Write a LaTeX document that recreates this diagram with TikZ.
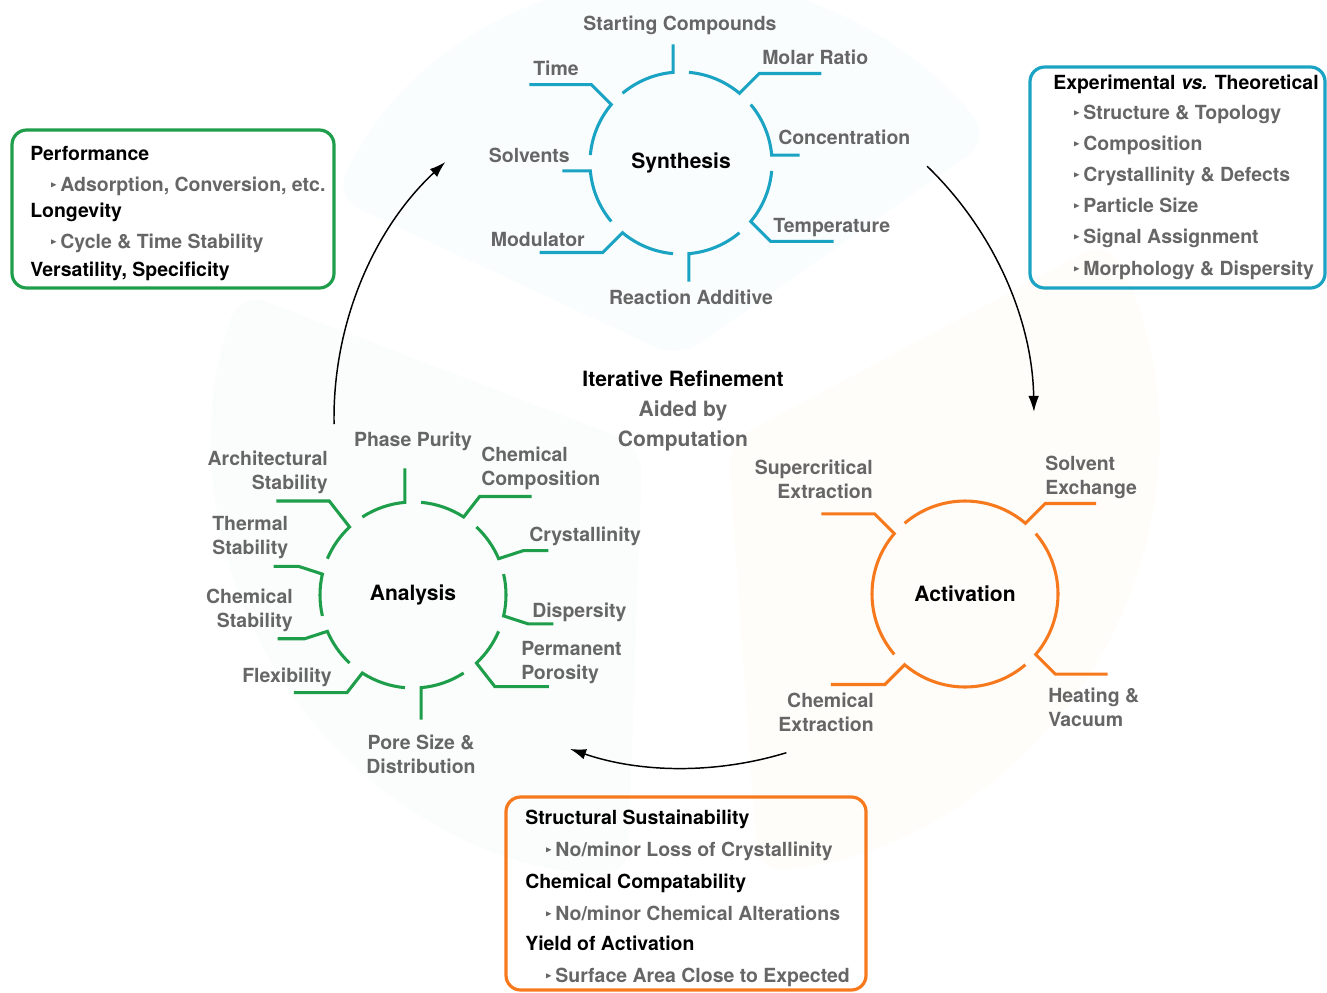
\documentclass[tikz,border=0pt]{standalone}
\usepackage{fontspec}
\usepackage{amsmath,amssymb}
\usepackage{graphicx}
\setmainfont{TeX Gyre Heros}
\usetikzlibrary{arrows.meta}

\definecolor{syncyan}{HTML}{1AA3C2}
\definecolor{anagreen}{HTML}{1E9E4A}
\definecolor{actorange}{HTML}{F7791E}
\definecolor{labgray}{HTML}{666666}
\definecolor{synwash}{HTML}{FAFDFE}
\definecolor{anawash}{HTML}{FAFDFB}
\definecolor{actwash}{HTML}{FFFDFA}

\newcommand{\bul}{\raisebox{2.5pt}{\scalebox{0.45}{$\blacktriangleright$}}\hspace{2.5pt}}

\begin{document}
\begin{tikzpicture}[x=0.75pt, y=-0.75pt,
  lbl/.style={text=labgray, font=\fontsize{14.6}{18}\selectfont\bfseries, inner sep=0pt, text height=10.5pt, text depth=0pt},
  lbltwo/.style={text=labgray, font=\fontsize{14.6}{18}\selectfont\bfseries, inner sep=0pt},
  hub/.style={font=\fontsize{15.8}{19}\selectfont\bfseries, inner sep=0pt},
  head/.style={anchor=base west, inner sep=0pt, font=\fontsize{14.6}{18}\selectfont\bfseries},
  sub/.style={head, text=labgray},
  ring/.style={line width=2.3pt},
  panel/.style={line width=2.4pt, rounded corners=11pt},
  wash/.style={rounded corners=20pt},
  cyc/.style={->, >={Latex[length=12pt,width=8pt]}, line width=1.1pt}]
\useasboundingbox (0,0) rectangle (1327,992);
\def \bigr {430}
\coordinate (mid) at (684,418);

% faint background sectors
\fill[synwash, wash] (mid) ++(265:60) -- ++(205:380) arc[start angle=205, end angle=325, radius=380] -- cycle;
\fill[actwash, wash] (mid) ++(29:50) -- ++(-28:\bigr) arc[start angle=-28, end angle=86, radius=\bigr] -- cycle;
\fill[anawash, wash] (mid) ++(146:50) -- ++(92:\bigr) arc[start angle=92, end angle=201, radius=\bigr] -- cycle;

% Synthesis
\def \rs {91}
\node[hub] (syn) at (681,163) {Synthesis};
\foreach \g/\h in {-90/0, -45/62, 0/0, 45/63, 90/0, 135/-63, 180/0, 225/-62}
  \draw[ring, syncyan] (syn.center) ++({\g-40}:\rs) arc[start angle=\g-40, end angle=\g-5, radius=\rs] -- ++(\g:28) -- ++(\h,0);
\node[lbl] (s-start) at (680,23) {Starting Compounds};
\node[lbl, anchor=west] (s-molar) at (762,57) {Molar Ratio};
\node[lbl] (s-time) at (556,68) {Time};
\node[lbl, anchor=west] (s-conc) at (778,137) {Concentration};
\node[lbl, anchor=east] (s-solv) at (570,155) {Solvents};
\node[lbl, anchor=west] (s-temp) at (773,225) {Temperature};
\node[lbl, anchor=east] (s-mod) at (585,239) {Modulator};
\node[lbl] (s-add) at (691,297) {Reaction Additive};

% Analysis
\def \ra {93}
\node[hub] (ana) at (413,595) {Analysis};
\foreach \p/\g/\l/\h in {-128/-90/34/0, -90/-52/26/52, -52/-18/26/25, -18/18/26/25, 18/52/30/54,
                         52/90/32/0, 90/128/25/-53, 128/162/24/-27, 162/198/25/-25, 198/232/33/-53}
  \draw[ring, anagreen] (ana.center) ++({\p+5}:\ra) arc[start angle=\p+5, end angle=\g-5, radius=\ra] -- ++(\g:\l) -- ++(\h,0);
\node[lbl] (a-phase) at (413,439) {Phase Purity};
\node[lbltwo, anchor=west, align=left] (a-comp) at (481,468) {Chemical\\Composition};
\node[lbltwo, anchor=east, align=right] (a-arch) at (328,472) {Architectural\\Stability};
\node[lbltwo, anchor=west, align=left] (a-therm) at (212,538) {Thermal\\Stability};
\node[lbl, anchor=west] (a-cryst) at (529,534) {Crystallinity};
\node[lbltwo, anchor=east, align=right] (a-chem) at (293,610) {Chemical\\Stability};
\node[lbl, anchor=west] (a-disp) at (532,610) {Dispersity};
\node[lbltwo, anchor=west, align=left] (a-poro) at (521,663) {Permanent\\Porosity};
\node[lbl, anchor=east] (a-flex) at (332,675) {Flexibility};
\node[lbltwo, align=center] (a-pore) at (421,754) {Pore Size \&\\Distribution};

% Activation
\def \rc {93}
\node[hub] (act) at (965,594) {Activation};
\foreach \g/\h in {-45/51, 45/52, 135/-54, 225/-53}
  \draw[ring, actorange] (act.center) ++({\g-85.5}:\rc) arc[start angle=\g-85.5, end angle=\g-4.5, radius=\rc] -- ++(\g:28) -- ++(\h,0);
\node[lbltwo, anchor=east, align=right] (c-super) at (873,479) {Supercritical\\Extraction};
\node[lbltwo, anchor=west, align=left] (c-solv) at (1045,477) {Solvent\\Exchange};
\node[lbltwo, anchor=east, align=right] (c-chem) at (874,712) {Chemical\\Extraction};
\node[lbltwo, anchor=west, align=left] (c-heat) at (1048,707) {Heating \&\\Vacuum};

% centre
\node[hub, align=center, font=\fontsize{15.8}{22.5}\selectfont\bfseries] (iter) at (683,411)
  {Iterative Refinement\\\textcolor{labgray}{Aided by}\\\textcolor{labgray}{Computation}};

% cycle arrows
\def \R {350}
\draw[cyc] (mid) ++(179:\R) arc[start angle=179, end angle=227, radius=\R];
\draw[cyc] (mid) ++(-46:\R) arc[start angle=-46, end angle=-1, radius=\R];
\draw[cyc] (mid) ++(73:\R) arc[start angle=73, end angle=109, radius=\R];

% panels
\draw[panel, anagreen] (12,130) rectangle (334,288);
\node[head] (g1) at (30,160) {Performance};
\node[sub] (g2) at (50,191) {\bul Adsorption, Conversion, etc.};
\node[head] (g3) at (30,217) {Longevity};
\node[sub] (g4) at (50,248) {\bul Cycle \& Time Stability};
\node[head] (g5) at (30,276) {Versatility, Specificity};

\draw[panel, syncyan] (1030,67) rectangle (1325,288);
\node[head] (b1) at (1053,89) {Experimental \textit{vs.} Theoretical};
\node[sub] (b2) at (1073,119) {\bul Structure \& Topology};
\node[sub] (b3) at (1073,150) {\bul Composition};
\node[sub] (b4) at (1073,181) {\bul Crystallinity \& Defects};
\node[sub] (b5) at (1073,212) {\bul Particle Size};
\node[sub] (b6) at (1073,243) {\bul Signal Assignment};
\node[sub] (b7) at (1073,275) {\bul Morphology \& Dispersity};

\draw[panel, actorange] (506,797) rectangle (866,990);
\node[head] (o1) at (525,824) {Structural Sustainability};
\node[sub] (o2) at (545,856) {\bul No/minor Loss of Crystallinity};
\node[head] (o3) at (525,888) {Chemical Compatability};
\node[sub] (o4) at (545,920) {\bul No/minor Chemical Alterations};
\node[head] (o5) at (525,950) {Yield of Activation};
\node[sub] (o6) at (545,982) {\bul Surface Area Close to Expected};
\end{tikzpicture}
\end{document}
